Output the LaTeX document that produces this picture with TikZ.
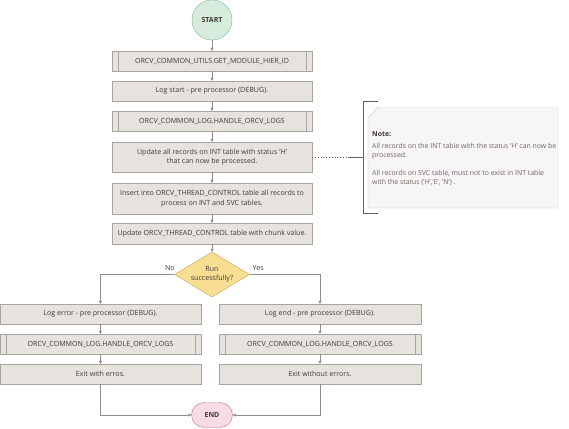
\documentclass[tikz,border=0pt]{standalone}
\usepackage{fontspec}
\setmainfont{Open Sans}
\usetikzlibrary{arrows.meta,shapes.geometric}

\definecolor{boxfill}{HTML}{E6E3DF}
\definecolor{boxline}{HTML}{A8A49E}
\definecolor{txt}{HTML}{3E3A36}
\definecolor{flow}{HTML}{8E8B88}
\definecolor{startfill}{HTML}{D5ECDC}
\definecolor{startline}{HTML}{82BD94}
\definecolor{endfill}{HTML}{F8DCE3}
\definecolor{endline}{HTML}{C76F80}
\definecolor{decfill}{HTML}{F8DE92}
\definecolor{decline}{HTML}{C8A54F}
\definecolor{notefill}{HTML}{F7F6F4}
\definecolor{noteline}{HTML}{C9C6C2}
\definecolor{notetxt}{HTML}{6C6763}

\begin{document}
\begin{tikzpicture}[x=1pt,y=-1pt,
   every node/.style={font=\fontsize{7.1}{9.6}\selectfont, text=txt},
   box/.style={draw=boxline, fill=boxfill, minimum width=200pt, minimum height=20pt,
               align=center, inner sep=1pt},
   subproc/.style={box},
   terminal/.style={font=\fontsize{7}{8}\selectfont\bfseries},
   decision/.style={diamond, draw=decline, fill=decfill, aspect=1.7, inner sep=0pt,
               minimum width=75pt, minimum height=45pt, align=center},
   flowline/.style={draw=flow, -{Triangle[width=3pt,length=3pt]}},
   label distance=-1mm]

\useasboundingbox (0,0) rectangle (569,428);

% main column
\node[terminal, circle, draw=startline, fill=startfill, minimum size=40pt] (start) at (212,20) {START};
\node[subproc] (hier) at (212,61) {ORCV\_COMMON\_UTILS.GET\_MODULE\_HIER\_ID};
\node[box] (logstart) at (212,91) {Log start - pre processor (DEBUG).};
\node[subproc] (logs) at (212,121) {ORCV\_COMMON\_LOG.HANDLE\_ORCV\_LOGS};
\node[box, minimum height=30pt] (upd) at (212,157) {Update all records on INT table with status 'H'\\that can now be processed.};
\node[box, minimum height=31pt] (ins) at (212,198.5) {Insert into ORCV\_THREAD\_CONTROL table all records to\\process on INT and SVC tables.};
\node[box, minimum height=21pt] (chunk) at (212,233.5) {Update ORCV\_THREAD\_CONTROL table with chunk value.};
\node[decision] (run) at (212,274.5) {Run\\successfully?};

% branches
\node[box, minimum width=201pt] (logerr) at (100.5,314) {Log error - pre processor (DEBUG).};
\node[subproc, minimum width=201pt] (logsL) at (100.5,344) {ORCV\_COMMON\_LOG.HANDLE\_ORCV\_LOGS};
\node[box, minimum width=201pt] (exiterr) at (100.5,374) {Exit with erros.};
\node[box, minimum width=202pt] (logend) at (320,314) {Log end - pre processor (DEBUG).};
\node[subproc, minimum width=202pt] (logsR) at (320,344) {ORCV\_COMMON\_LOG.HANDLE\_ORCV\_LOGS};
\node[box, minimum width=202pt] (exitok) at (320,374) {Exit without errors.};
\node[terminal, draw=endline, fill=endfill, rounded corners=12.5pt,
      minimum width=41pt, minimum height=25pt] (end) at (212,415) {END};

% double sides of the sub process boxes
\foreach \n in {hier,logs,logsL,logsR}
  \draw[boxline] ([xshift=6pt]\n.north west) -- ([xshift=6pt]\n.south west)
                 ([xshift=-6pt]\n.north east) -- ([xshift=-6pt]\n.south east);

% note
\path[draw=noteline, fill=notefill] (368,118) -- (378,107) -- (558,107) -- (558,208) -- (368,208) -- cycle;
\node[anchor=north west, align=left, inner sep=0pt, text=notetxt,
      font=\fontsize{6.9}{9}\selectfont] (note) at (372,131)
  {{\color{txt}\bfseries Note:}\\[3pt]
   All records on the INT table with the status 'H' can now be\\
   processed.\\[9pt]
   All records on SVC table, must not to exist in INT table\\
   with the status ('H','E', 'N') .};
\draw[txt!80] (378,101) -| (363,213) -- (378,213);
\coordinate (brk) at (363,157);
\draw[txt!80, dotted, thick] (upd.east) -- ++(36,0) coordinate (dots);
\draw[txt!80] (dots) -- (brk);

% connectors
\draw[flowline] (start) -- (hier);
\draw[flowline] (hier) -- (logstart);
\draw[flowline] (logstart) -- (logs);
\draw[flowline] (logs) -- (upd);
\draw[flowline] (upd) -- (ins);
\draw[flowline] (ins) -- (chunk);
\draw[flowline] (chunk) -- (run);
\draw[flowline] (run.west) -| node[pos=0.03, above, text=txt] {No} (logerr.north);
\draw[flowline] (run.east) -| node[pos=0.06, above, text=txt] {Yes} (logend.north);
\draw[flowline] (logerr) -- (logsL);
\draw[flowline] (logsL) -- (exiterr);
\draw[flowline] (logend) -- (logsR);
\draw[flowline] (logsR) -- (exitok);
\draw[flowline] (exiterr.south) |- (end.west);
\draw[flowline] (exitok.south) |- (end.east);

\end{tikzpicture}
\end{document}
